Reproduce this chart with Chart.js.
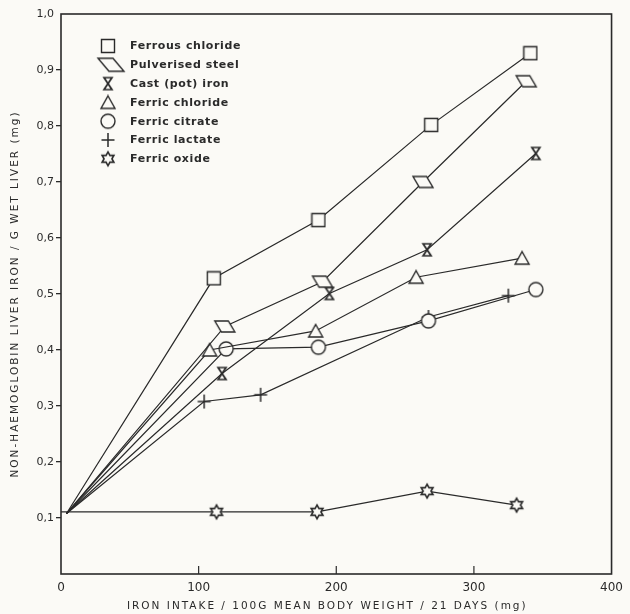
<!DOCTYPE html>
<html>
<head>
<meta charset="utf-8">
<script src="https://cdn.jsdelivr.net/npm/chart.js@4/dist/chart.umd.min.js"></script>
<style>
  html, body { margin: 0; padding: 0; background: #fbfaf6; }
  #wrap { width: 630px; height: 614px; }
</style>
</head>
<body>
<div id="wrap"><canvas id="ironChart" width="630" height="614"></canvas></div>
<script>
// values (x = iron intake mg, y = liver iron mg/g)
const seriesNames = ['Ferrous chloride', 'Pulverised steel', 'Cast (pot) iron', 'Ferric chloride', 'Ferric citrate', 'Ferric lactate', 'Ferric oxide'];

const ferrousChlorideX = [4, 111, 187, 269, 341];
const ferrousChlorideY = [0.108, 0.528, 0.632, 0.802, 0.93];

const pulverisedSteelX = [4, 119, 190, 263, 338];
const pulverisedSteelY = [0.108, 0.442, 0.522, 0.70, 0.88];

const castIronX = [4, 117, 195, 266, 345];
const castIronY = [0.108, 0.358, 0.501, 0.579, 0.751];

const ferricChlorideX = [4, 108, 185, 258, 335];
const ferricChlorideY = [0.108, 0.40, 0.434, 0.53, 0.564];

const ferricCitrateX = [4, 120, 187, 267, 345];
const ferricCitrateY = [0.108, 0.402, 0.405, 0.452, 0.508];

const ferricLactateX = [4, 104, 145, 267, 325];
const ferricLactateY = [0.108, 0.308, 0.32, 0.459, 0.497];

const ferricOxideX = [0, 113, 186, 266, 331];
const ferricOxideY = [0.111, 0.111, 0.111, 0.148, 0.123];

const xTicks = [0, 100, 200, 300, 400];

const ink = '#2a2a2a';
const paper = '#fbfaf6';
const family = '"DejaVu Sans", sans-serif';

// hollow marker drawn on a small canvas, used as pointStyle
function makeMarker(w, h, draw, lw, noFill) {
    const c = document.createElement('canvas');
    c.width = w;
    c.height = h;
    const g = c.getContext('2d');
    g.translate(w / 2, h / 2);
    g.lineWidth = lw || 1.4;
    g.strokeStyle = ink;
    g.fillStyle = paper;
    g.lineJoin = 'miter';
    g.beginPath();
    draw(g);
    if (!noFill) g.fill();
    g.stroke();
    return c;
}

const squareMark = makeMarker(16, 16, g => g.rect(-6.5, -6.5, 13, 13));
const paraMark = makeMarker(24, 15, g => {
    g.moveTo(-10, -5.5); g.lineTo(3.5, -5.5); g.lineTo(10, 5.5); g.lineTo(-3.5, 5.5); g.closePath();
});
const paraLegend = makeMarker(30, 17, g => {
    g.moveTo(-13, -6.5); g.lineTo(2, -6.5); g.lineTo(13, 6.5); g.lineTo(-2, 6.5); g.closePath();
});
const hourMark = makeMarker(12, 16, g => {
    g.moveTo(-4, -6); g.lineTo(4, -6); g.lineTo(-4, 6); g.lineTo(4, 6); g.closePath();
}, 1.7);
const triMark = makeMarker(18, 16, g => {
    g.moveTo(0, -6.5); g.lineTo(7, 6); g.lineTo(-7, 6); g.closePath();
});
const circleMark = makeMarker(18, 18, g => g.arc(0, 0, 7, 0, Math.PI * 2));
const crossMark = makeMarker(16, 16, g => {
    g.moveTo(-6.5, 0); g.lineTo(6.5, 0); g.moveTo(0, -7); g.lineTo(0, 7);
}, 1.5, true);
const starMark = makeMarker(18, 18, g => {
    for (let k = 0; k < 12; k++) {
        const r = k % 2 === 0 ? 6.8 : 3.9;
        const a = -Math.PI / 2 + k * Math.PI / 6;
        if (k === 0) g.moveTo(r * Math.cos(a), r * Math.sin(a));
        else g.lineTo(r * Math.cos(a), r * Math.sin(a));
    }
    g.closePath();
}, 1.6);

function pairs(xs, ys) {
    return xs.map((x, i) => ({ x: x, y: ys[i] }));
}

function series(label, xs, ys, mark) {
    return {
        label: label,
        data: pairs(xs, ys),
        borderColor: ink,
        borderWidth: 1.2,
        pointStyle: mark,
        pointRadius: xs.map((x, i) => i === 0 ? 0 : 6),
        pointHoverRadius: xs.map((x, i) => i === 0 ? 0 : 6),
        tension: 0,
        fill: false
    };
}

const datasets = [
    series(seriesNames[0], ferrousChlorideX, ferrousChlorideY, squareMark),
    series(seriesNames[1], pulverisedSteelX, pulverisedSteelY, paraMark),
    series(seriesNames[2], castIronX, castIronY, hourMark),
    series(seriesNames[3], ferricChlorideX, ferricChlorideY, triMark),
    series(seriesNames[4], ferricCitrateX, ferricCitrateY, circleMark),
    series(seriesNames[5], ferricLactateX, ferricLactateY, crossMark),
    series(seriesNames[6], ferricOxideX, ferricOxideY, starMark)
];
const legendMarks = [squareMark, paraLegend, hourMark, triMark, circleMark, crossMark, starMark];

// paper, frame, inward x ticks, legend and axis titles
const paperPlugin = {
    id: 'paper',
    beforeDraw(chart) {
        const ctx = chart.ctx;
        ctx.save();
        ctx.fillStyle = paper;
        ctx.fillRect(0, 0, chart.width, chart.height);
        ctx.restore();
    },
    beforeDatasetsDraw(chart) {
        const { ctx, chartArea: a, scales } = chart;
        ctx.save();
        ctx.strokeStyle = ink;
        ctx.lineWidth = 1.6;
        ctx.strokeRect(a.left, a.top, a.right - a.left, a.bottom - a.top);
        ctx.lineWidth = 1.2;
        xTicks.slice(1, -1).forEach(v => {
            const px = scales.x.getPixelForValue(v);
            ctx.beginPath();
            ctx.moveTo(px, a.bottom);
            ctx.lineTo(px, a.bottom - 8);
            ctx.stroke();
        });
        ctx.restore();
    },
    afterDraw(chart) {
        const { ctx, chartArea: a } = chart;
        ctx.save();
        // legend inside the plot
        ctx.font = 'bold 11px ' + family;
        ctx.letterSpacing = '0.6px';
        ctx.fillStyle = ink;
        ctx.textBaseline = 'middle';
        seriesNames.forEach((name, i) => {
            const y = a.top + 32 + i * 18.8;
            const m = legendMarks[i];
            const mx = a.left + (i === 1 ? 50 : 47);
            ctx.drawImage(m, mx - m.width / 2, y - m.height / 2);
            ctx.fillText(name, a.left + 69, y + 0.5);
        });
        // axis titles
        ctx.font = '10.5px ' + family;
        ctx.letterSpacing = '2px';
        ctx.textAlign = 'center';
        ctx.fillText('IRON INTAKE / 100G MEAN BODY WEIGHT / 21 DAYS (mg)', (a.left + a.right) / 2 - 9, a.bottom + 32);
        ctx.translate(15, (a.top + a.bottom) / 2);
        ctx.rotate(-Math.PI / 2);
        ctx.fillText('NON-HAEMOGLOBIN LIVER IRON / G WET LIVER (mg)', 0, 0);
        ctx.restore();
    }
};

const ctx = document.getElementById('ironChart').getContext('2d');
new Chart(ctx, {
    type: 'line',
    data: { datasets: datasets },
    options: {
        responsive: false,
        animation: false,
        events: [],
        layout: { padding: { top: 14, right: 14, left: 0, bottom: 0 }, autoPadding: false },
        plugins: { legend: { display: false }, tooltip: { enabled: false } },
        scales: {
            x: {
                type: 'linear',
                min: 0,
                max: 400,
                afterBuildTicks: s => { s.ticks = xTicks.map(v => ({ value: v })); },
                ticks: { padding: 7, color: ink, font: { family: family, size: 12 }, maxRotation: 0, autoSkip: false },
                grid: { display: false, drawTicks: false },
                border: { display: false },
                afterFit: s => { s.height = 40; }
            },
            y: {
                type: 'linear',
                min: 0,
                max: 1,
                ticks: {
                    stepSize: 0.1,
                    padding: 2,
                    color: ink,
                    font: { family: family, size: 11 },
                    callback: v => v < 0.05 ? '' : v.toFixed(1).replace('.', ',')
                },
                grid: {
                    drawOnChartArea: false,
                    tickLength: 5,
                    lineWidth: 1.3,
                    color: c => (c.tick && (c.tick.value < 0.05 || c.tick.value > 0.95)) ? 'rgba(0,0,0,0)' : ink
                },
                border: { display: false },
                afterFit: s => { s.width = 61; }
            }
        }
    },
    plugins: [paperPlugin]
});
</script>
</body>
</html>
